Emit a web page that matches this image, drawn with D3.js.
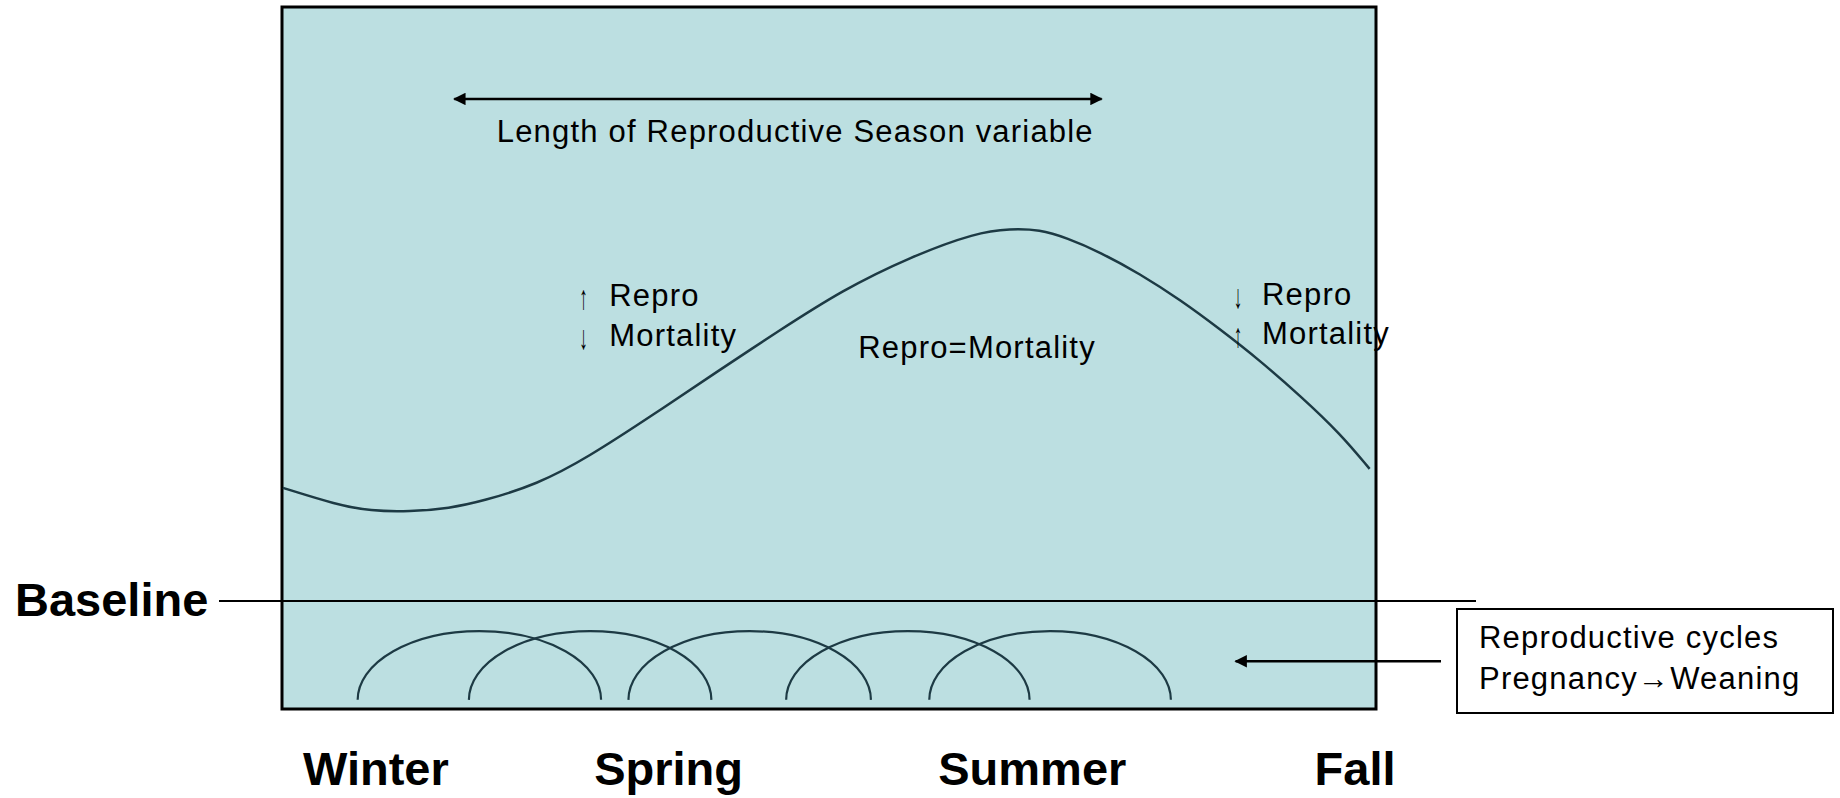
<!DOCTYPE html>
<html>
<head>
<meta charset="utf-8">
<script src="https://cdn.jsdelivr.net/npm/d3@7"></script>
<style>
  body { margin: 0; background: #fff; }
  svg text { font-family: "Liberation Sans", Arial, sans-serif; fill: #000; }
</style>
</head>
<body>
<div id="chart"></div>
<script>
// Data (x = month of the year 0-12, y = relative rate 0-100)
const curveMonths = [0.01, 0.60, 0.97, 1.40, 1.84, 2.20, 2.80, 3.35, 4.07, 4.80, 5.43, 6.15, 6.89, 7.62, 7.99, 8.31, 8.61, 8.97, 9.41, 9.85, 10.29, 10.73, 11.17, 11.61, 11.93];
const curveRates  = [31.5, 29.1, 28.2, 28.1, 28.6, 29.6, 32.0, 35.8, 41.9, 48.3, 53.7, 59.7, 64.4, 67.9, 68.4, 68.3, 67.1, 65.1, 62.0, 58.3, 54.1, 49.6, 44.6, 39.2, 34.2];

const cycleStarts = [0.83, 2.05, 3.80, 5.53, 7.10];
const cycleEnds   = [3.50, 4.71, 6.46, 8.20, 9.75];
const cycleFloor = 1.3;
const cyclePeak = 11.1;

const seasons = ["Winter", "Spring", "Summer", "Fall"];
const seasonMonths = [1.03, 4.24, 8.23, 11.77];

const baselineRate = 15.4;
const seasonSpan = [1.89, 8.99];

// Set up SVG
const W = 1840, H = 798;
const box = { left: 282, right: 1376, top: 7, bottom: 709 };

const svg = d3.select("#chart").append("svg")
  .attr("width", W)
  .attr("height", H);

const x = d3.scaleLinear().domain([0, 12]).range([box.left, box.right]);
const y = d3.scaleLinear().domain([0, 100]).range([box.bottom, box.top]);

const defs = svg.append("defs");
defs.append("marker")
  .attr("id", "head")
  .attr("viewBox", "0 0 10 10")
  .attr("refX", 9).attr("refY", 5)
  .attr("markerWidth", 5).attr("markerHeight", 5)
  .attr("markerUnits", "strokeWidth")
  .attr("orient", "auto-start-reverse")
  .append("path")
  .attr("d", "M0,0 L10,5 L0,10 Z")
  .attr("fill", "#000");

// plot area
svg.append("rect")
  .attr("x", box.left).attr("y", box.top)
  .attr("width", box.right - box.left).attr("height", box.bottom - box.top)
  .attr("fill", "#bcdfe1")
  .attr("stroke", "#000")
  .attr("stroke-width", 3);

// main curve
const line = d3.line()
  .x((d, i) => x(curveMonths[i]))
  .y(d => y(d))
  .curve(d3.curveBasis);

svg.append("path")
  .datum(curveRates)
  .attr("d", line)
  .attr("fill", "none")
  .attr("stroke", "#1d3a44")
  .attr("stroke-width", 2.5);

// reproductive cycles
svg.selectAll(".cycle")
  .data(cycleStarts)
  .join("path")
  .attr("class", "cycle")
  .attr("d", (d, i) => {
    const x0 = x(d), x1 = x(cycleEnds[i]);
    const rx = (x1 - x0) / 2, ry = y(cycleFloor) - y(cyclePeak);
    return `M${x0},${y(cycleFloor)} A${rx},${ry} 0 0 1 ${x1},${y(cycleFloor)}`;
  })
  .attr("fill", "none")
  .attr("stroke", "#1d3a44")
  .attr("stroke-width", 2.2);

// baseline
svg.append("line")
  .attr("x1", 219).attr("x2", 1476)
  .attr("y1", y(baselineRate)).attr("y2", y(baselineRate))
  .attr("stroke", "#000")
  .attr("stroke-width", 2);

svg.append("text")
  .attr("x", 15).attr("y", 616)
  .attr("font-size", 47).attr("font-weight", "bold")
  .text("Baseline");

// length of season arrow
svg.append("line")
  .attr("x1", x(seasonSpan[0])).attr("x2", x(seasonSpan[1]))
  .attr("y1", y(86.9)).attr("y2", y(86.9))
  .attr("stroke", "#000")
  .attr("stroke-width", 2.5)
  .attr("marker-start", "url(#head)")
  .attr("marker-end", "url(#head)");

const label = (tx, ty, str, size = 31) => svg.append("text")
  .attr("x", tx).attr("y", ty)
  .attr("font-size", size)
  .attr("letter-spacing", 1.2)
  .text(str);

// thin up/down arrows next to the annotations
const arrowGlyph = (tx, ty, str) => svg.append("text")
  .attr("x", tx).attr("y", ty)
  .attr("font-family", "DejaVu Sans")
  .attr("font-size", 34)
  .attr("transform", `translate(${tx},${ty}) scale(0.5,1) translate(${-tx},${-ty})`)
  .text(str);

svg.append("text")
  .attr("x", x(5.63)).attr("y", y(80.8))
  .attr("text-anchor", "middle")
  .attr("font-size", 31).attr("letter-spacing", 1.2)
  .text("Length of Reproductive Season variable");

// annotations
arrowGlyph(x(3.26), y(57.0), "↑");
label(x(3.59), y(57.4), "Repro");
arrowGlyph(x(3.26), y(51.3), "↓");
label(x(3.59), y(51.7), "Mortality");

label(x(6.32), y(50), "Repro=Mortality");

arrowGlyph(x(10.44), y(57.1), "↓");
label(x(10.75), y(57.5), "Repro");
arrowGlyph(x(10.44), y(51.6), "↑");
label(x(10.75), y(52.0), "Mortality");

// season labels
svg.selectAll(".season")
  .data(seasons)
  .join("text")
  .attr("class", "season")
  .attr("x", (d, i) => x(seasonMonths[i]))
  .attr("y", 785)
  .attr("text-anchor", "middle")
  .attr("font-size", 47)
  .attr("font-weight", "bold")
  .text(d => d);

// legend box
svg.append("rect")
  .attr("x", 1457).attr("y", 609)
  .attr("width", 376).attr("height", 104)
  .attr("fill", "#fff")
  .attr("stroke", "#000")
  .attr("stroke-width", 2);

label(1479, 648, "Reproductive cycles");
label(1479, 689, "Pregnancy→Weaning");

svg.append("line")
  .attr("x1", 1441).attr("x2", x(10.46))
  .attr("y1", y(6.8)).attr("y2", y(6.8))
  .attr("stroke", "#000")
  .attr("stroke-width", 2.5)
  .attr("marker-end", "url(#head)");
</script>
</body>
</html>
